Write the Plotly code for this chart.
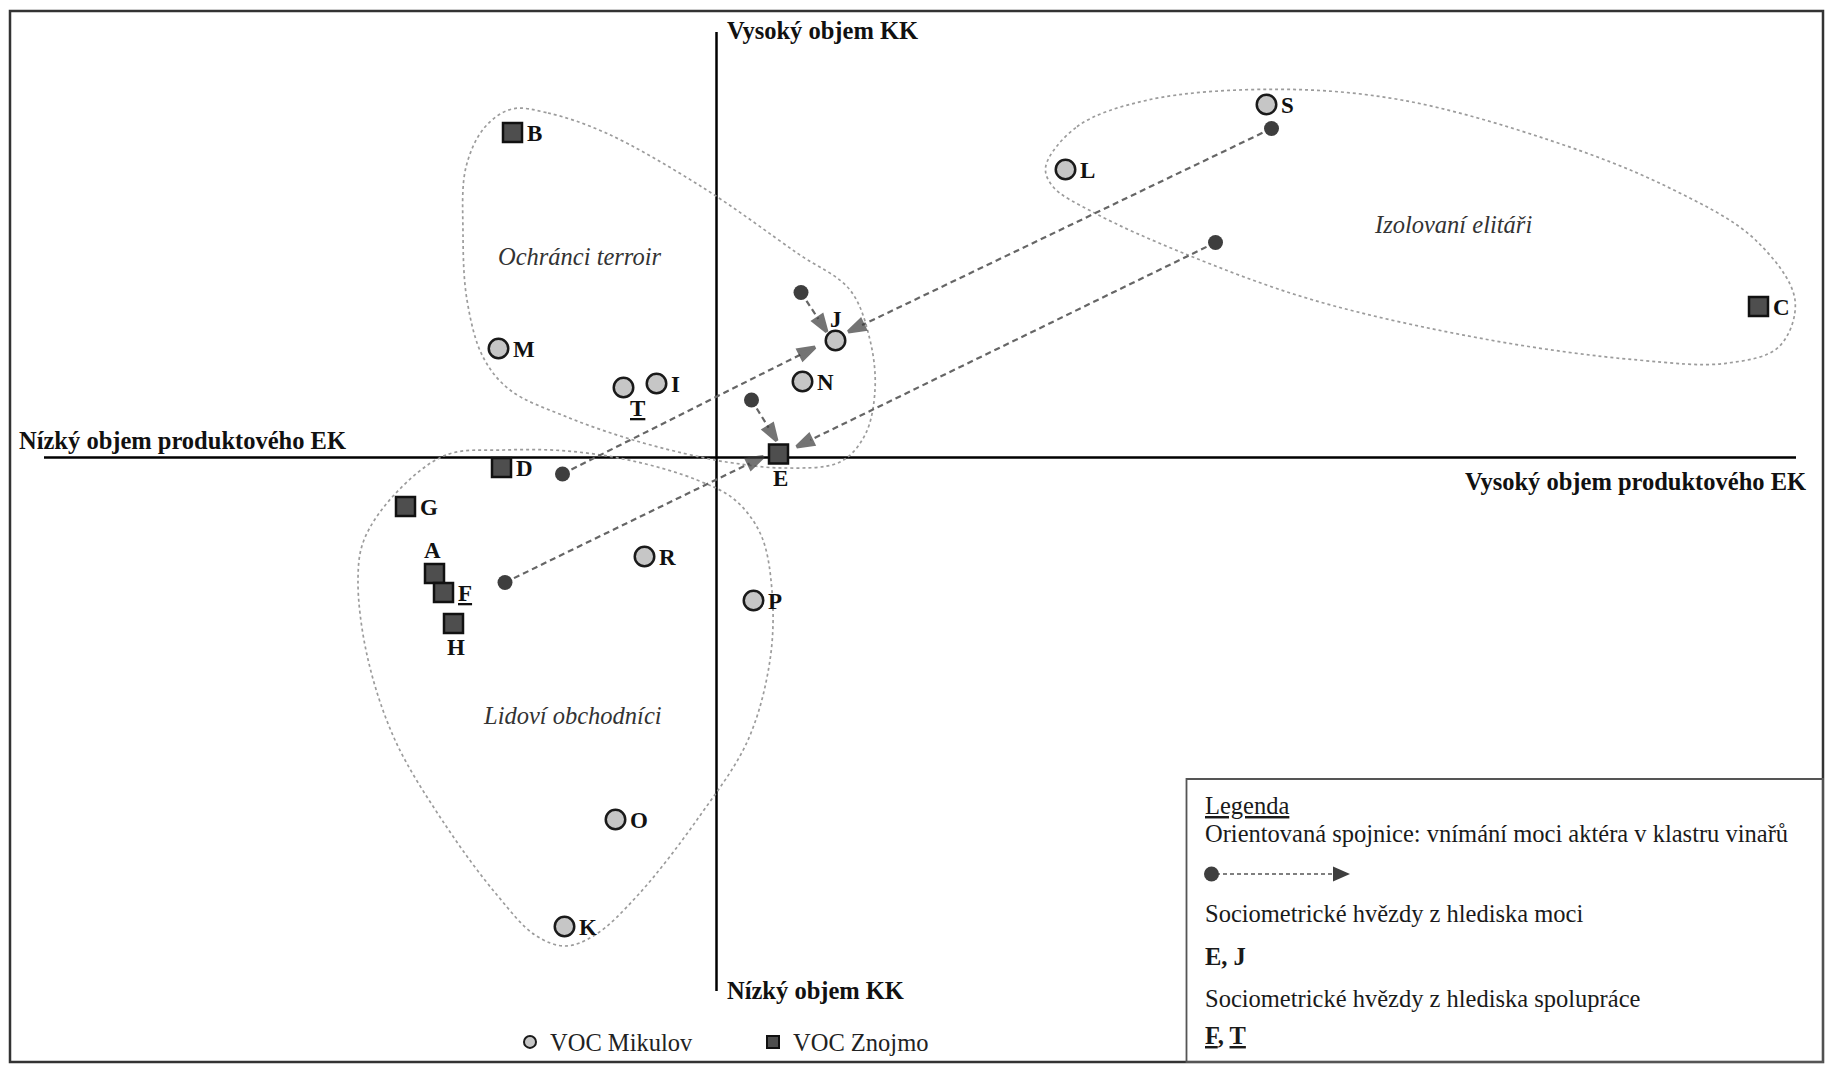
import plotly.graph_objects as go

W, H = 1825, 1067
OX, OY, PXU = 716.5, 457.5, 100.0   # axis crossing (px) and px per unit
FONT = "Liberation Serif, Times New Roman, serif"
FS = 24.5

# ---------------- data ----------------
mikulov_names = ["S", "L", "J", "N", "I", "T", "M", "R", "P", "O", "K"]
mikulov_x = [5.50, 3.49, 1.19, 0.86, -0.60, -0.93, -2.18, -0.72, 0.37, -1.01, -1.52]
mikulov_y = [3.53, 2.88, 1.17, 0.76, 0.74, 0.70, 1.09, -0.99, -1.43, -3.62, -4.69]

znojmo_names = ["B", "C", "E", "D", "G", "A", "F", "H"]
znojmo_x = [-2.04, 10.42, 0.62, -2.15, -3.11, -2.82, -2.73, -2.63]
znojmo_y = [3.25, 1.51, 0.035, -0.10, -0.49, -1.16, -1.35, -1.66]

arrow_from_x = [5.55, 4.99, 0.845, 0.35, -1.54, -2.115]
arrow_from_y = [3.29, 2.15, 1.65, 0.575, -0.165, -1.25]
arrow_to_x = [1.318, 0.802, 1.102, 0.602, 0.985, 0.468]
arrow_to_y = [1.258, 0.108, 1.258, 0.168, 1.102, 0.008]

cluster_names = ["Ochránci terroir", "Lidoví obchodníci", "Izolovaní elitáři"]
cluster_label_x = [-1.365, -1.439, 7.361]
cluster_label_y = [2.015, -2.583, 2.329]

terroir_x = [-2.045, -1.685, -1.105, -0.145, 0.805, 1.335, 1.535, 1.585, 1.485, 1.235,
             0.665, 0.165, -0.165, -0.835, -1.495, -2.065, -2.335, -2.495, -2.535, -2.505, -2.315]
terroir_y = [3.485, 3.445, 3.245, 2.705, 2.045, 1.675, 1.175, 0.675, 0.225, -0.045,
             -0.105, -0.055, 0.005, 0.175, 0.405, 0.675, 1.005, 1.575, 2.245, 2.905, 3.305]

obchod_x = [-2.125, -2.705, -3.215, -3.525, -3.585, -3.495, -3.215, -2.705, -2.195, -1.815,
            -1.515, -1.215, -0.785, -0.175, 0.315, 0.535, 0.555, 0.445, 0.185, -0.195, -0.835, -1.495]
obchod_y = [0.075, 0.025, -0.365, -0.825, -1.215, -1.975, -2.825, -3.685, -4.375, -4.775,
            -4.885, -4.775, -4.375, -3.595, -2.825, -2.025, -1.335, -0.775, -0.425, -0.225, -0.035, 0.065]

elit_x = [3.292, 3.605, 4.315, 5.611, 6.850, 8.325, 9.505, 10.390, 10.785, 10.625,
          10.095, 9.210, 7.735, 5.965, 4.665, 3.782, 3.365]
elit_y = [2.908, 3.308, 3.575, 3.682, 3.575, 3.175, 2.708, 2.175, 1.575, 1.108,
          0.942, 0.975, 1.175, 1.575, 2.045, 2.445, 2.708]

axis_texts = ["Vysoký objem KK", "Nízký objem KK",
              "Nízký objem produktového EK", "Vysoký objem produktového EK"]
legend_title = "Legenda"
legend_lines = ["Orientovaná spojnice: vnímání moci aktéra v klastru vinařů",
                "Sociometrické hvězdy z hlediska moci",
                "Sociometrické hvězdy z hlediska spolupráce"]
power_stars = ["E", "J"]
coop_stars = ["F", "T"]
series_names = ["VOC Mikulov", "VOC Znojmo"]

# ---------------- helpers (layout positions in px) ----------------
def fx(px):
    return px / W

def fy(py):
    return 1 - py / H

def closed(v):
    return list(v) + [v[0]]

fig = go.Figure()

# cluster outlines
for xs, ys in [(terroir_x, terroir_y), (obchod_x, obchod_y), (elit_x, elit_y)]:
    fig.add_trace(go.Scatter(
        x=closed(xs), y=closed(ys), mode="lines",
        line=dict(color="#9c9c9c", width=1.7, dash="dot", shape="spline", smoothing=1.0),
        hoverinfo="skip", showlegend=False))

# arrows: dashed shaft + arrowhead at the target end
for x0, y0, x1, y1 in zip(arrow_from_x, arrow_from_y, arrow_to_x, arrow_to_y):
    fig.add_trace(go.Scatter(
        x=[x0, x1], y=[y0, y1], mode="lines+markers",
        line=dict(color="#666666", width=2.2, dash="6px,4px"),
        marker=dict(symbol="arrow", size=[0, 17], color="#3a3a3a",
                    angleref="previous", line=dict(color="#3a3a3a", width=3.5)),
        hoverinfo="skip", showlegend=False))

# arrow origins (the perceiving actor)
fig.add_trace(go.Scatter(
    x=arrow_from_x, y=arrow_from_y, mode="markers",
    marker=dict(symbol="circle", size=15, color="#3e3e3e", line=dict(width=0)),
    hoverinfo="skip", showlegend=False))

# actors
fig.add_trace(go.Scatter(
    x=mikulov_x, y=mikulov_y, mode="markers", name=series_names[0],
    marker=dict(symbol="circle", size=19.5, color="#c6c6c6",
                line=dict(color="#1a1a1a", width=2.5)),
    text=mikulov_names, hoverinfo="text"))
fig.add_trace(go.Scatter(
    x=znojmo_x, y=znojmo_y, mode="markers", name=series_names[1],
    marker=dict(symbol="square", size=19, color="#4e4e4e",
                line=dict(color="#111111", width=2.5)),
    text=znojmo_names, hoverinfo="text"))

annotations = []

# point labels
LABEL_STYLE = {
    "J": ("center", 0, 21),
    "T": ("center", 14, -21),
    "E": ("center", 2, -24),
    "A": ("center", -2, 23),
    "H": ("center", 2, -24),
}
underlined = set(coop_stars)
for names, xs, ys in [(mikulov_names, mikulov_x, mikulov_y), (znojmo_names, znojmo_x, znojmo_y)]:
    for n, x, y in zip(names, xs, ys):
        xa, dx, dy = LABEL_STYLE.get(n, ("left", 12, -1))
        t = f"<b><u>{n}</u></b>" if n in underlined else f"<b>{n}</b>"
        annotations.append(dict(
            x=x, y=y, xref="x", yref="y", text=t, showarrow=False,
            xanchor=xa, yanchor="middle", xshift=dx, yshift=dy,
            font=dict(family=FONT, size=FS - 1.5, color="#111111")))

# cluster labels
for n, x, y in zip(cluster_names, cluster_label_x, cluster_label_y):
    annotations.append(dict(
        x=x, y=y, xref="x", yref="y", text=f"<i>{n}</i>", showarrow=False,
        xanchor="center", yanchor="middle",
        font=dict(family=FONT, size=FS, color="#333333")))

# axis end labels
axis_pos = [("left", 725, 30), ("left", 725, 990.5), ("left", 17, 440), ("right", 1808, 482)]
for t, (xa, px, py) in zip(axis_texts, axis_pos):
    annotations.append(dict(
        x=fx(px), y=fy(py), xref="paper", yref="paper", text=f"<b>{t}</b>",
        showarrow=False, xanchor=xa, yanchor="middle",
        font=dict(family=FONT, size=FS, color="#111111")))

# legend box texts
box_texts = [
    (f"<u>{legend_title}</u>", 805),
    (legend_lines[0], 833),
    (legend_lines[1], 913),
    ("<b>" + ", ".join(power_stars) + "</b>", 956),
    (legend_lines[2], 998),
    ("<b>" + ", ".join(f"<u>{s}</u>" for s in coop_stars) + "</b>", 1035),
]
for t, py in box_texts:
    annotations.append(dict(
        x=fx(1203), y=fy(py), xref="paper", yref="paper", text=t,
        showarrow=False, xanchor="left", yanchor="middle",
        font=dict(family=FONT, size=FS, color="#1a1a1a")))

# axis extents (px)
AX_TOP, AX_BOTTOM, AX_LEFT, AX_RIGHT = 32, 991, 44, 1796

shapes = [
    # outer frame
    dict(type="rect", xref="paper", yref="paper", x0=fx(10), y0=fy(11), x1=fx(1823), y1=fy(1062),
         line=dict(color="#333333", width=2.5), layer="below"),
    # legend box
    dict(type="rect", xref="paper", yref="paper", x0=fx(1186.5), y0=fy(779), x1=fx(1823), y1=fy(1062),
         line=dict(color="#555555", width=1.8), layer="below"),
    # axes
    dict(type="line", xref="x", yref="paper", x0=0, x1=0, y0=fy(AX_TOP), y1=fy(AX_BOTTOM),
         line=dict(color="#000000", width=2.5), layer="below"),
    dict(type="line", xref="paper", yref="y", x0=fx(AX_LEFT), x1=fx(AX_RIGHT), y0=0, y1=0,
         line=dict(color="#000000", width=2.5), layer="below"),
    # legend-box arrow sample
    dict(type="line", xref="paper", yref="paper", x0=fx(1216), x1=fx(1336), y0=fy(874), y1=fy(874),
         line=dict(color="#555555", width=1.5, dash="4px,3px")),
    dict(type="circle", xref="paper", yref="paper", x0=fx(1204), x1=fx(1219), y0=fy(866.5), y1=fy(881.5),
         fillcolor="#3e3e3e", line=dict(width=0)),
    dict(type="path", xref="paper", yref="paper",
         path=f"M{fx(1333)},{fy(866.5)} L{fx(1350)},{fy(874)} L{fx(1333)},{fy(881.5)} Z",
         fillcolor="#3e3e3e", line=dict(width=0)),
]

fig.update_layout(
    width=W, height=H,
    margin=dict(l=0, r=0, t=0, b=0),
    paper_bgcolor="white", plot_bgcolor="white",
    xaxis=dict(range=[(0 - OX) / PXU, (W - OX) / PXU], visible=False, fixedrange=True),
    yaxis=dict(range=[(OY - H) / PXU, OY / PXU], visible=False, fixedrange=True),
    shapes=shapes,
    annotations=annotations,
    showlegend=True,
    legend=dict(orientation="h", x=fx(510), y=fy(1042), xanchor="left", yanchor="middle",
                bgcolor="rgba(0,0,0,0)", borderwidth=0, itemsizing="constant",
                entrywidth=198, entrywidthmode="pixels",
                font=dict(family=FONT, size=FS, color="#222222")),
    hovermode="closest",
)

fig.write_html("out.html", config={"displayModeBar": False},
               post_script="document.body.style.margin='0px';document.body.style.overflow='hidden';")
